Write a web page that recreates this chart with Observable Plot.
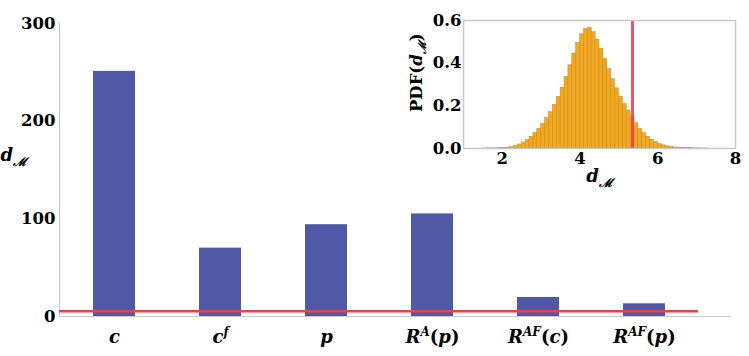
<!DOCTYPE html>
<html>
<head>
<meta charset="utf-8">
<script src="https://cdn.jsdelivr.net/npm/d3@7"></script>
<script src="https://cdn.jsdelivr.net/npm/@observablehq/plot@0.6"></script>
<style>
  html, body { margin: 0; padding: 0; background: white; }
  #wrap { position: relative; width: 749px; height: 356px; }
  #wrap svg { position: absolute; left: 0; top: 0; }
</style>
</head>
<body>
<div id="wrap"></div>
<script>
// ---- data ----
const categories = ["c", "c^f", "p", "R^A(p)", "R^AF(c)", "R^AF(p)"];
const distances = [251, 70, 94, 105, 19.5, 13];
const threshold = 5.35;
const yTicks = [0, 100, 200, 300];

const pdfBinStarts = [1.5, 1.6, 1.7, 1.8, 1.9, 2.0, 2.1, 2.2, 2.3, 2.4, 2.5, 2.6, 2.7, 2.8, 2.9,
  3.0, 3.1, 3.2, 3.3, 3.4, 3.5, 3.6, 3.7, 3.8, 3.9, 4.0, 4.1, 4.2, 4.3, 4.4, 4.5, 4.6, 4.7, 4.8, 4.9,
  5.0, 5.1, 5.2, 5.3, 5.4, 5.5, 5.6, 5.7, 5.8, 5.9, 6.0, 6.1, 6.2, 6.3, 6.4, 6.5, 6.6, 6.7, 6.8, 6.9,
  7.0, 7.1, 7.2];
const pdfValues = [0.0003, 0.0005, 0.0007, 0.001, 0.0013, 0.002, 0.004, 0.007, 0.012, 0.019, 0.028, 0.040, 0.055, 0.072, 0.092,
  0.116, 0.142, 0.170, 0.204, 0.242, 0.285, 0.335, 0.390, 0.445, 0.495, 0.535, 0.560, 0.565, 0.545, 0.510, 0.468, 0.420, 0.372, 0.325, 0.282,
  0.243, 0.208, 0.178, 0.150, 0.118, 0.092, 0.072, 0.055, 0.041, 0.030, 0.021, 0.015, 0.010, 0.007, 0.005, 0.0035, 0.0025, 0.0018, 0.0012, 0.0008,
  0.0005, 0.0003, 0.0002];
const pdfBinWidth = 0.1;
const insetXTicks = [2, 4, 6, 8];
const insetYTicks = [0, 0.2, 0.4, 0.6];

// ---- styling ----
const BLUE = "#4f59a7";
const RED = "#e8434d";
const ORANGE = "#f2a922";
const ORANGE_EDGE = "#c88a14";
const AXIS_GRAY = "#c9c9c9";

// rich text (sub/superscripts) for labels
const rich = {
  "c": {size: 18, parts: [["c", "i"]]},
  "c^f": {size: 18, parts: [["c", "i"], ["f", "sup"]]},
  "p": {size: 18, parts: [["p", "i"]]},
  "R^A(p)": {size: 18, parts: [["R", "i"], ["A", "sup"], ["(", "r"], ["p", "i"], [")", "r"]]},
  "R^AF(c)": {size: 18, parts: [["R", "i"], ["AF", "sup"], ["(", "r"], ["c", "i"], [")", "r"]]},
  "R^AF(p)": {size: 18, parts: [["R", "i"], ["AF", "sup"], ["(", "r"], ["p", "i"], [")", "r"]]},
  "d_M": {size: 18, parts: [["d", "i"], ["\u2133", "sub"]]},
  "PDF(d_M)": {size: 16.5, rotate: -90, parts: [["PDF(", "r"], ["d", "i"], ["\u2133", "sub"], [")", "r"]]}
};

function richify(svg) {
  const svgRect = svg.getBoundingClientRect();
  d3.select(svg).selectAll("text").each(function () {
    const spec = rich[this.textContent];
    if (!spec) return;
    const sel = d3.select(this);
    sel.text(null).attr("font-size", spec.size + "px");
    let shift = 0;
    for (const [t, kind] of spec.parts) {
      const ts = sel.append("tspan").text(t);
      const small = kind === "sup" || kind === "sub";
      const target = kind === "sup" ? -Math.round(spec.size * 0.4) : kind === "sub" ? Math.round(spec.size * 0.25) : 0;
      if (target !== shift) ts.attr("dy", target - shift);
      shift = target;
      if (small) ts.attr("font-size", Math.round(spec.size * 0.68) + "px");
      ts.attr("font-style", kind === "r" ? "normal" : "italic");
    }
    if (spec.rotate) {
      // rotate the label about its own centre, in its parent's coordinates
      const r = this.getBoundingClientRect();
      const cx = r.left + r.width / 2 - svgRect.left;
      const cy = r.top + r.height / 2 - svgRect.top;
      const parent = this.parentNode;
      const m = parent.getCTM();
      const px = cx - (m ? m.e : 0), py = cy - (m ? m.f : 0);
      const g = document.createElementNS("http://www.w3.org/2000/svg", "g");
      g.setAttribute("transform", `rotate(${spec.rotate},${px},${py})`);
      parent.insertBefore(g, this);
      g.appendChild(this);
    }
  });
}

const fontStyle = {
  fontFamily: "'DejaVu Serif', serif",
  fontSize: "16.5px",
  fontWeight: "bold",
  background: "transparent",
  color: "black"
};

// ---- main bar chart ----
const bars = categories.map((c, i) => ({cat: c, value: distances[i]}));

const main = Plot.plot({
  width: 749,
  height: 356,
  marginLeft: 59,
  marginRight: 19,
  marginTop: 23,
  marginBottom: 40,
  style: fontStyle,
  x: {type: "band", domain: categories, range: [59, 698], paddingInner: 0.605, paddingOuter: 0.3, label: null},
  y: {domain: [0, 300], label: null},
  marks: [
    Plot.barY(bars, {x: "cat", y: "value", fill: BLUE}),
    Plot.frame({anchor: "left", stroke: AXIS_GRAY, strokeWidth: 1.2}),
    Plot.frame({anchor: "bottom", stroke: AXIS_GRAY, strokeWidth: 1.2}),
    Plot.ruleY([threshold], {stroke: RED, strokeWidth: 2.5, insetRight: 32}),
    Plot.axisY({ticks: yTicks, tickSize: 0, tickPadding: 4, label: null}),
    Plot.axisX({tickSize: 0, tickPadding: 14, label: null}),
    Plot.text(["d_M"], {frameAnchor: "left", dx: -59, dy: -15, textAnchor: "start", text: d => d})
  ]
});

// ---- inset histogram ----
const hist = pdfBinStarts.map((x, i) => ({x1: x, x2: x + pdfBinWidth, y: pdfValues[i]}));

const inset = Plot.plot({
  width: 749,
  height: 356,
  marginLeft: 463,
  marginRight: 14,
  marginTop: 20,
  marginBottom: 208,
  style: fontStyle,
  x: {domain: [1, 8], label: null},
  y: {domain: [0, 0.6], label: null},
  marks: [
    Plot.rectY(hist, {x1: "x1", x2: "x2", y: "y", fill: ORANGE, stroke: ORANGE_EDGE, strokeWidth: 0.5}),
    Plot.ruleX([threshold], {stroke: RED, strokeWidth: 3, strokeOpacity: 0.9}),
    Plot.frame({stroke: AXIS_GRAY, strokeWidth: 1.5}),
    Plot.axisX({ticks: insetXTicks, tickSize: 0, tickPadding: 4, tickFormat: d3.format("d"), label: null}),
    Plot.axisY({ticks: insetYTicks, tickSize: 0, tickPadding: 2, tickFormat: d3.format(".1f"), label: null}),
    Plot.text(["d_M"], {frameAnchor: "bottom", dy: 33, text: d => d}),
    Plot.text(["PDF(d_M)"], {frameAnchor: "left", textAnchor: "middle", dx: -46, dy: -13, text: d => d})
  ]
});

const wrap = document.getElementById("wrap");
wrap.appendChild(main);
wrap.appendChild(inset);
richify(main);
richify(inset);
</script>
</body>
</html>
